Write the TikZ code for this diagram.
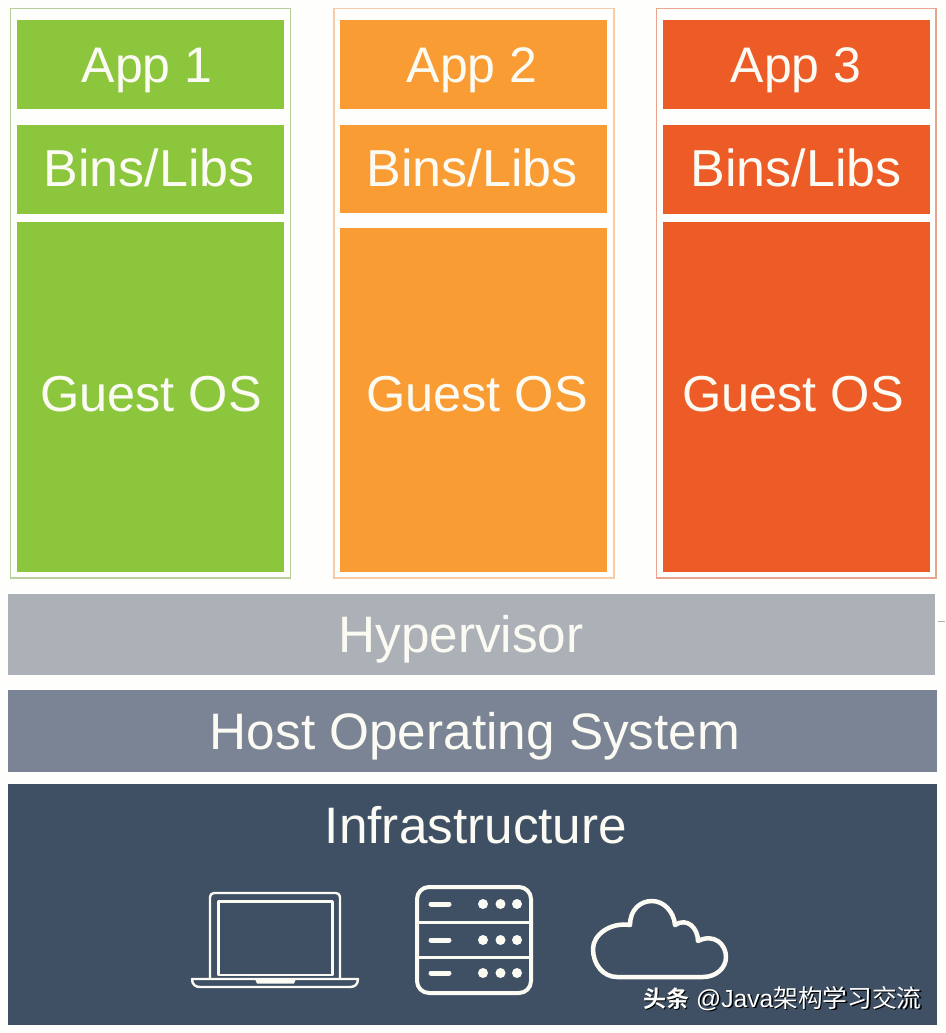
\documentclass[tikz,border=0pt]{standalone}
\usepackage{fontspec}
\setmainfont{Liberation Sans}
\newfontfamily\cjk{Noto Sans CJK SC}
\newfontfamily\cjkb{Noto Sans CJK SC Bold}
\definecolor{pagebg}{HTML}{FEFEFC}
\definecolor{greenc}{HTML}{8BC63D}
\definecolor{orangec}{HTML}{F99C34}
\definecolor{redc}{HTML}{ED5B27}
\definecolor{greenl}{HTML}{B9CF9A}
\definecolor{orangel}{HTML}{F6CBA6}
\definecolor{redl}{HTML}{E9A48E}
\definecolor{hyperc}{HTML}{ACB1B8}
\definecolor{hostc}{HTML}{7A8494}
\definecolor{infrac}{HTML}{3F5064}
\definecolor{textc}{HTML}{FBFBF4}
\tikzset{
  x=1pt,y=-1pt,
  lbl/.style={text=textc,font=\fontsize{50}{60}\selectfont,anchor=base,inner sep=0pt},
  lblb/.style={lbl,font=\fontsize{52}{60}\selectfont},
  lblg/.style={lbl,font=\fontsize{50.5}{60}\selectfont},
  lblh/.style={lbl,font=\fontsize{51.3}{60}\selectfont},
  icon/.style={draw=textc,line width=3pt,line join=round},
  wm/.style={text=white,font=\fontsize{23}{28}\selectfont,anchor=base west,inner sep=0pt},
  wmb/.style={wm,font=\fontsize{24.7}{28}\selectfont}
}
\newcommand{\bx}[5]{\fill[#1] (#2,#3) rectangle (#4,#5);}
\begin{document}
\begin{tikzpicture}
\useasboundingbox (0,0) rectangle (945,1033);
\fill[pagebg] (0,0) rectangle (945,1033);
% outer frames
\draw[greenl,line width=1.4pt] (10.5,8.5) rectangle (290.5,578);
\draw[orangel,line width=1.4pt] (334,8.5) rectangle (614,578);
\draw[redl,line width=1.4pt] (656.5,8.5) rectangle (936,578);
% column 1
\bx{greenc}{17}{20}{284}{109}
\bx{greenc}{17}{125}{284}{214}
\bx{greenc}{17}{222}{284}{572}
% column 2
\bx{orangec}{340}{20}{607}{109}
\bx{orangec}{340}{125}{607}{213}
\bx{orangec}{340}{228}{607}{572}
% column 3
\bx{redc}{663}{20}{930}{109}
\bx{redc}{663}{125}{930}{214}
\bx{redc}{663}{222}{930}{572}
% layers
\bx{hyperc}{8}{594}{935}{675}
\bx{hostc}{8}{690}{937}{772}
\bx{infrac}{8}{784}{937}{1025}
\draw[hyperc,line width=1pt] (938,621) -- (945,621);
% labels
\node[lbl] (app1) at (147,82) {App 1};
\node[lbl] (app2) at (472,82) {App 2};
\node[lbl] (app3) at (796,82) {App 3};
\node[lblb] (bins1) at (149,186) {Bins/Libs};
\node[lblb] (bins2) at (472,186) {Bins/Libs};
\node[lblb] (bins3) at (796,186) {Bins/Libs};
\node[lblg] (guest1) at (151,411) {Guest OS};
\node[lblg] (guest2) at (477,411) {Guest OS};
\node[lblg] (guest3) at (793,411) {Guest OS};
\node[lblh] (hyper) at (461,652) {Hypervisor};
\node[lblh] (host) at (475,749) {Host Operating System};
\node[lblh] (infra) at (476,843.5) {Infrastructure};
% laptop
\draw[icon,line width=2.4pt,rounded corners=4pt] (210,978) -- (210,893) -- (340,893) -- (340,978);
\draw[icon,line width=2.4pt] (218.5,901.5) rectangle (332.5,975);
\draw[icon,line width=2.4pt] (192,979) -- (358,979) .. controls (358,985) and (354,987) .. (350,987) -- (200,987) .. controls (196,987) and (192,985) .. (192,979) -- cycle;
\fill[textc] (255,979) -- (296,979) -- (294,983.5) -- (257,983.5) -- cycle;
% server
\draw[icon,line width=4pt,rounded corners=12pt] (417,887) rectangle (531,993);
\draw[icon] (417,922) -- (531,922);
\draw[icon] (417,957) -- (531,957);
\foreach \yy in {904,940,973}{
  \draw[textc,line width=5pt,line cap=round] (431,\yy) -- (449,\yy);
  \foreach \xx in {483,500.5,517}{ \fill[textc] (\xx,\yy) circle (5); }
}
% cloud
\draw[icon,line width=4.5pt] (617,977)
  .. controls (603,977) and (593,964) .. (593,949)
  .. controls (593,935) and (610,922) .. (630,925)
  .. controls (630,910) and (640,901) .. (652,901)
  .. controls (664,901) and (674,912) .. (675,925)
  .. controls (687,917) and (698,928) .. (698,941)
  .. controls (714,933) and (726,944) .. (726,957)
  .. controls (726,968) and (716,977) .. (703,977)
  -- cycle;
% watermark
\foreach \dx/\dy/\cc/\nm in {1.5/1.5/black/a,0/0/white/b}{
  \node[wm,text=\cc] (wmcn\nm) at (643+\dx,1007+\dy) {\cjkb 头条};
  \node[wmb,text=\cc] (wmat\nm) at (696+\dx,1007+\dy) {@Java\cjk 架构学习交流};
}
\end{tikzpicture}
\end{document}
